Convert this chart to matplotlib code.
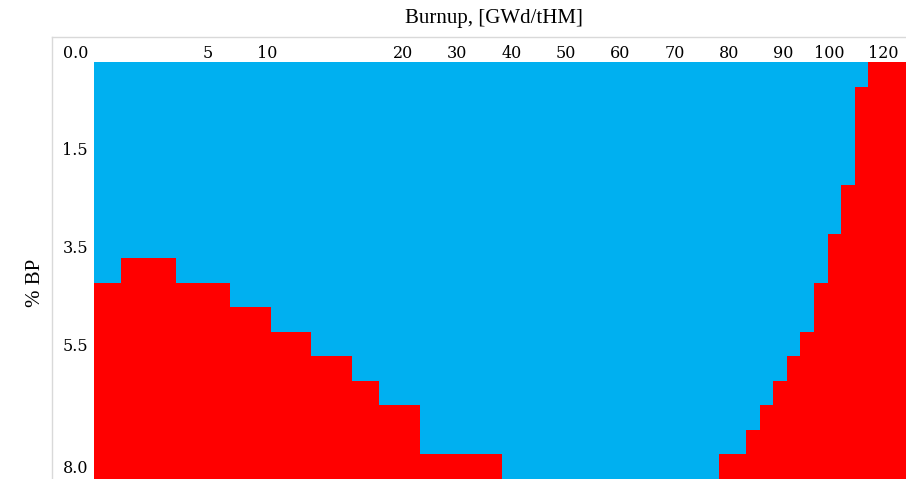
import matplotlib
matplotlib.use("Agg")
import matplotlib.pyplot as plt
import numpy as np
from matplotlib.colors import ListedColormap
from matplotlib.lines import Line2D

# burnup axis: column edges (in step units) and the BP level where red starts
col_edges = [0, 2, 6, 10, 13, 16, 19, 21, 24, 30, 46, 48, 49, 50, 51,
             52, 53, 54, 55, 56, 57, 60]
red_from_bp = [4.5, 4.0, 4.5, 5.0, 5.5, 6.0, 6.5, 7.0, 8.0, None, 8.0, 7.5,
               7.0, 6.5, 6.0, 5.5, 4.5, 3.5, 2.5, 0.5, 0.0]

bp_levels = [0.0, 0.5, 1.0, 1.5, 2.0, 2.5, 3.0, 3.5, 4.0, 4.5, 5.0, 5.5,
             6.0, 6.5, 7.0, 7.5, 8.0]

burnup_ticks = [8, 12, 22, 26, 30, 34, 38, 42, 46, 50, 53, 57]
burnup_labels = ['5', '10', '20', '30', '40', '50', '60', '70', '80', '90',
                 '100', '120']
bp_ticks = [1.5, 3.5, 5.5, 8.0]

blue = '#00B0F0'
red = '#FF0000'

# build the grid: 1 = red, 0 = blue
bp = np.array(bp_levels)
grid = np.zeros((len(bp_levels), len(red_from_bp)))
for j, thr in enumerate(red_from_bp):
    if thr is not None:
        grid[:, j] = bp >= thr - 1e-9

y_edges = np.concatenate([[bp[0] - 0.25], (bp[:-1] + bp[1:]) / 2, [bp[-1] + 0.25]])

W, H = 906, 479
fig = plt.figure(figsize=(W / 100, H / 100), dpi=100)
x0, x1 = 94, 94 + 60 * 13.585
y0, y1 = 62.3, 479
ax = fig.add_axes([x0 / W, 1 - y1 / H, (x1 - x0) / W, (y1 - y0) / H])

ax.pcolormesh(col_edges, y_edges, grid, cmap=ListedColormap([blue, red]),
              vmin=0, vmax=1, shading='flat')
ax.set_xlim(col_edges[0], col_edges[-1])
ax.set_ylim(y_edges[-1], y_edges[0])

for s in ax.spines.values():
    s.set_visible(False)

ax.xaxis.tick_top()
ax.set_xticks(burnup_ticks)
ax.set_xticklabels(burnup_labels, ha='left', family='DejaVu Serif', fontsize=11.5)
ax.tick_params(axis='x', length=0, pad=0.5)

ax.set_yticks(bp_ticks)
ax.set_yticklabels([f'{v:.1f}' for v in bp_ticks], family='DejaVu Serif', fontsize=11.5)
ax.tick_params(axis='y', length=0, pad=4.3)

# corner label for 0.0
ax.annotate('0.0', xy=(0, 1), xycoords='axes fraction', xytext=(-4.3, 0.5),
            textcoords='offset points', ha='right', va='bottom',
            family='DejaVu Serif', fontsize=11.5)

fig.text(494 / W, 1 - 18 / H, 'Burnup, [GWd/tHM]', ha='center', va='center',
         family='Liberation Serif', fontsize=15)
fig.text(35 / W, 1 - 283 / H, '% BP', ha='center', va='center', rotation=90,
         family='Liberation Serif', fontsize=15)

# faint frame lines
fig.add_artist(Line2D([52 / W, 1], [1 - 37 / H, 1 - 37 / H], color='#d9d9d9', lw=1))
fig.add_artist(Line2D([52 / W, 52 / W], [0, 1 - 37 / H], color='#d9d9d9', lw=1))

fig.savefig('out.png', dpi=100)
